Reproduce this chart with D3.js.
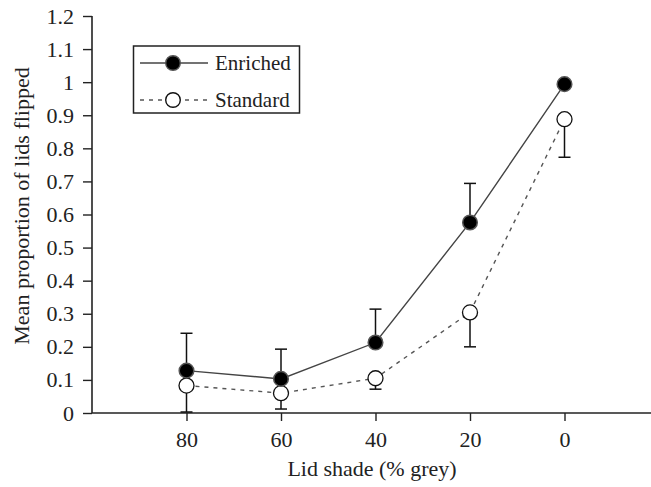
<!DOCTYPE html>
<html>
<head>
<meta charset="utf-8">
<script src="https://cdn.jsdelivr.net/npm/d3@7"></script>
<style>
  body { margin: 0; background: #fff; }
  svg { display: block; font-family: "Liberation Serif", "Times New Roman", serif; }
</style>
</head>
<body>
<div id="chart"></div>
<script>
// lid shade (% grey) categories, left to right
const shades = [80, 60, 40, 20, 0];
// mean proportion of lids flipped
const enriched = [0.128, 0.103, 0.213, 0.576, 0.994];
const enrichedErr = [0.113, 0.090, 0.101, 0.118, 0]; // drawn upward
const standard = [0.083, 0.060, 0.105, 0.304, 0.888];
const standardErr = [0.080, 0.048, 0.033, 0.104, 0.115]; // drawn downward
const yTicks = [0, 0.1, 0.2, 0.3, 0.4, 0.5, 0.6, 0.7, 0.8, 0.9, 1, 1.1, 1.2];

const width = 651, height = 487;

const svg = d3.select('#chart')
  .append('svg')
  .attr('width', width)
  .attr('height', height);

const x = d3.scaleLinear().domain([100, -20]).range([92, 659]);
const y = d3.scaleLinear().domain([0, 1.2]).range([413, 16]);

// axes
const yAxis = svg.append('g')
  .attr('transform', `translate(${x(100)},0)`)
  .call(d3.axisLeft(y).tickValues(yTicks).tickSize(9).tickPadding(9)
    .tickFormat(d => String(+d.toFixed(1))));

const xAxis = svg.append('g')
  .attr('transform', `translate(0,${y(0)})`)
  .call(d3.axisBottom(x).tickValues(shades).tickSize(8).tickPadding(10)
    .tickFormat(d => d));

[yAxis, xAxis].forEach(g => {
  g.select('.domain').attr('stroke', '#222').attr('stroke-width', 1.6);
  g.selectAll('.tick line').attr('stroke', '#222').attr('stroke-width', 1.4);
  g.selectAll('.tick text')
    .attr('fill', '#222')
    .style('font-size', '22px')
    .style('font-family', '"Liberation Serif", "Times New Roman", serif');
});
// bottom axis has no end tick
xAxis.select('.domain').attr('d', `M${x(100)},0H${x(-20)}`);
yAxis.select('.domain').attr('d', `M0,${y(1.2)}V${y(0)}`);

// axis titles
svg.append('text')
  .attr('x', 372)
  .attr('y', 476)
  .attr('text-anchor', 'middle')
  .style('font-size', '22px')
  .attr('fill', '#222')
  .text('Lid shade (% grey)');

svg.append('text')
  .attr('transform', `translate(29,${206}) rotate(-90)`)
  .attr('text-anchor', 'middle')
  .style('font-size', '22px')
  .attr('fill', '#222')
  .text('Mean proportion of lids flipped');

const line = d3.line()
  .x((d, i) => x(shades[i]))
  .y(d => y(d));

// lines
svg.append('path')
  .attr('d', line(standard))
  .attr('fill', 'none')
  .attr('stroke', '#555')
  .attr('stroke-width', 1.4)
  .attr('stroke-dasharray', '4,5');

svg.append('path')
  .attr('d', line(enriched))
  .attr('fill', 'none')
  .attr('stroke', '#444')
  .attr('stroke-width', 1.4);

// error bars
const bars = svg.append('g').attr('stroke', '#111').attr('stroke-width', 1.5);

enriched.forEach((v, i) => {
  if (!enrichedErr[i]) return;
  const cx = x(shades[i]), top = y(v + enrichedErr[i]);
  bars.append('line').attr('x1', cx).attr('x2', cx).attr('y1', y(v)).attr('y2', top);
  bars.append('line').attr('x1', cx - 6).attr('x2', cx + 6).attr('y1', top).attr('y2', top);
});

standard.forEach((v, i) => {
  if (!standardErr[i]) return;
  const cx = x(shades[i]), bot = y(v - standardErr[i]);
  bars.append('line').attr('x1', cx).attr('x2', cx).attr('y1', y(v)).attr('y2', bot);
  bars.append('line').attr('x1', cx - 6).attr('x2', cx + 6).attr('y1', bot).attr('y2', bot);
});

// markers
svg.append('g').selectAll('circle')
  .data(standard)
  .enter()
  .append('circle')
  .attr('cx', (d, i) => x(shades[i]))
  .attr('cy', d => y(d))
  .attr('r', 7.5)
  .attr('fill', '#fff')
  .attr('stroke', '#111')
  .attr('stroke-width', 1.3);

svg.append('g').selectAll('circle')
  .data(enriched)
  .enter()
  .append('circle')
  .attr('cx', (d, i) => x(shades[i]))
  .attr('cy', d => y(d))
  .attr('r', 7.3)
  .attr('fill', '#000')
  .attr('stroke', '#555')
  .attr('stroke-width', 1.5);

// legend
const legend = svg.append('g');
legend.append('rect')
  .attr('x', 133.5).attr('y', 46)
  .attr('width', 166).attr('height', 67)
  .attr('fill', '#fff')
  .attr('stroke', '#222')
  .attr('stroke-width', 1.5);

const legendItems = [
  { name: 'Enriched', y: 63, fill: '#000', stroke: '#555', dash: null, lineColor: '#444' },
  { name: 'Standard', y: 100, fill: '#fff', stroke: '#111', dash: '4,5', lineColor: '#555' }
];

legendItems.forEach(it => {
  legend.append('line')
    .attr('x1', 140).attr('x2', 208)
    .attr('y1', it.y).attr('y2', it.y)
    .attr('stroke', it.lineColor)
    .attr('stroke-width', 1.4)
    .attr('stroke-dasharray', it.dash);
  legend.append('circle')
    .attr('cx', 173).attr('cy', it.y).attr('r', 7.3)
    .attr('fill', it.fill)
    .attr('stroke', it.stroke)
    .attr('stroke-width', 1.4);
  legend.append('text')
    .attr('x', 215).attr('y', it.y + 7)
    .style('font-size', '21px')
    .attr('fill', '#222')
    .text(it.name);
});
</script>
</body>
</html>
